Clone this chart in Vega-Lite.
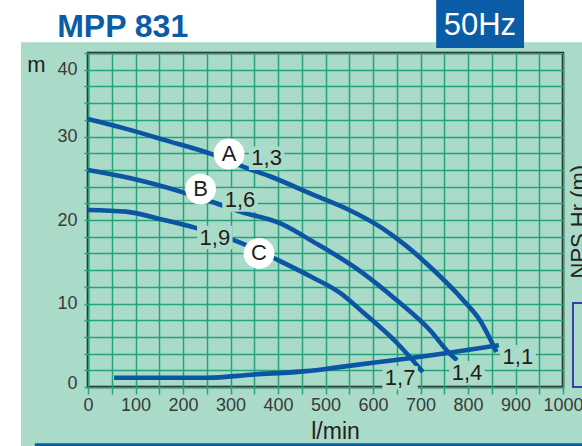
{
  "$schema": "https://vega.github.io/schema/vega-lite/v6.json",
  "width": 475,
  "height": 334,
  "autosize": {"type": "none"},
  "padding": {"left": 88, "top": 53, "right": 19, "bottom": 59},
  "background": "#aadbc8",
  "config": {
    "font": "Liberation Sans",
    "view": {"stroke": "#1c1c1c", "strokeWidth": 2.5, "fill": null},
    "axis": {
      "domain": false,
      "grid": true,
      "gridColor": "#25a27c",
      "gridWidth": 1.5,
      "tickColor": "#25a27c",
      "tickWidth": 1.5,
      "labelFont": "Liberation Sans",
      "labelFontSize": 18,
      "labelColor": "#3a3a3a",
      "titleFont": "Liberation Sans",
      "titleFontWeight": "normal",
      "titleColor": "#222222",
      "labelOverlap": false,
      "labelBound": false,
      "labelFlush": false
    }
  },
  "datasets": {
    "curves": [
      {"curve": "A", "q": 0, "h": 32.1},
      {"curve": "A", "q": 75, "h": 31.0},
      {"curve": "A", "q": 160, "h": 29.6},
      {"curve": "A", "q": 265, "h": 27.8},
      {"curve": "A", "q": 335, "h": 26.2},
      {"curve": "A", "q": 380, "h": 25.3},
      {"curve": "A", "q": 475, "h": 23.0},
      {"curve": "A", "q": 550, "h": 21.2},
      {"curve": "A", "q": 620, "h": 19.0},
      {"curve": "A", "q": 670, "h": 16.9},
      {"curve": "A", "q": 720, "h": 14.4},
      {"curve": "A", "q": 790, "h": 10.4},
      {"curve": "A", "q": 825, "h": 8.0},
      {"curve": "A", "q": 860, "h": 4.2},
      {"curve": "B", "q": 0, "h": 26.0},
      {"curve": "B", "q": 90, "h": 25.0},
      {"curve": "B", "q": 195, "h": 23.4},
      {"curve": "B", "q": 270, "h": 22.0},
      {"curve": "B", "q": 320, "h": 21.0},
      {"curve": "B", "q": 405, "h": 19.6},
      {"curve": "B", "q": 480, "h": 17.2},
      {"curve": "B", "q": 510, "h": 16.2},
      {"curve": "B", "q": 575, "h": 13.8},
      {"curve": "B", "q": 650, "h": 10.4},
      {"curve": "B", "q": 720, "h": 6.8},
      {"curve": "B", "q": 760, "h": 4.1},
      {"curve": "B", "q": 777, "h": 3.2},
      {"curve": "C", "q": 0, "h": 21.2},
      {"curve": "C", "q": 80, "h": 21.0},
      {"curve": "C", "q": 160, "h": 20.0},
      {"curve": "C", "q": 230, "h": 19.0},
      {"curve": "C", "q": 315, "h": 17.4},
      {"curve": "C", "q": 400, "h": 15.2},
      {"curve": "C", "q": 470, "h": 13.2},
      {"curve": "C", "q": 530, "h": 11.3},
      {"curve": "C", "q": 580, "h": 8.9},
      {"curve": "C", "q": 650, "h": 5.3},
      {"curve": "C", "q": 705, "h": 1.8},
      {"curve": "NPSH", "q": 55, "h": 1.1},
      {"curve": "NPSH", "q": 250, "h": 1.1},
      {"curve": "NPSH", "q": 350, "h": 1.5},
      {"curve": "NPSH", "q": 460, "h": 1.9},
      {"curve": "NPSH", "q": 525, "h": 2.35},
      {"curve": "NPSH", "q": 600, "h": 2.9},
      {"curve": "NPSH", "q": 685, "h": 3.5},
      {"curve": "NPSH", "q": 760, "h": 4.1},
      {"curve": "NPSH", "q": 865, "h": 5.0}
    ],
    "labels": [
      {"label": "A", "kind": "letter", "q": 297, "h": 27.9},
      {"label": "B", "kind": "letter", "q": 237, "h": 23.7},
      {"label": "C", "kind": "letter", "q": 360, "h": 16.0},
      {"label": "1,3", "kind": "num", "q": 376, "h": 27.4},
      {"label": "1,6", "kind": "num", "q": 320, "h": 22.4},
      {"label": "1,9", "kind": "num", "q": 267, "h": 17.9},
      {"label": "1,7", "kind": "num", "q": 657, "h": 1.1},
      {"label": "1,4", "kind": "num", "q": 798, "h": 1.7},
      {"label": "1,1", "kind": "num", "q": 905, "h": 3.6}
    ]
  },
  "layer": [
    {
      "data": {"values": [{}]},
      "mark": {"type": "rect", "color": "#ffffff"},
      "encoding": {
        "x": {"datum": -200, "scale": {"domain": [0, 1000], "nice": false, "zero": false}},
        "x2": {"datum": 1100},
        "y": {"datum": 41.3, "scale": {"domain": [0, 40], "nice": false, "zero": false}},
        "y2": {"datum": 48}
      }
    },
    {
      "data": {"values": [{}]},
      "mark": {"type": "rect", "color": "#ffffff"},
      "encoding": {
        "x": {"datum": -200},
        "x2": {"datum": -141},
        "y": {"datum": -9},
        "y2": {"datum": 48}
      }
    },
    {
      "data": {"values": [{}]},
      "mark": {"type": "rect", "color": "#0a5ca6"},
      "encoding": {
        "x": {"datum": -112},
        "x2": {"datum": 1100},
        "y": {"datum": -6.75},
        "y2": {"datum": -9}
      }
    },
    {
      "data": {"values": [{}]},
      "mark": {"type": "rect", "color": "#0a5ca6"},
      "encoding": {
        "x": {"datum": 733},
        "x2": {"datum": 918},
        "y": {"datum": 40.6},
        "y2": {"datum": 48}
      }
    },
    {
      "data": {"name": "curves"},
      "mark": {"type": "line", "color": "#0b55a3", "strokeWidth": 4.6, "interpolate": "monotone", "strokeCap": "butt"},
      "encoding": {
        "x": {
          "field": "q", "type": "quantitative", "title": "l/min",
          "scale": {"domain": [0, 1000], "nice": false, "zero": false},
          "axis": {
            "values": [0, 50, 100, 150, 200, 250, 300, 350, 400, 450, 500, 550, 600, 650, 700, 750, 800, 850, 900, 950, 1000],
            "tickCount": 100,
            "format": "d",
            "labelExpr": "datum.value % 100 === 0 ? datum.label : ''",
            "tickSize": 7,
            "labelPadding": 2,
            "titleFontSize": 23,
            "titleBaseline": "alphabetic",
            "titleAlign": "center",
            "titleX": 247,
            "titleY": 51
          }
        },
        "y": {
          "field": "h", "type": "quantitative", "title": "m",
          "scale": {"domain": [0, 40], "nice": false, "zero": false},
          "axis": {
            "values": [0, 2, 4, 6, 8, 10, 12, 14, 16, 18, 20, 22, 24, 26, 28, 30, 32, 34, 36, 38, 40],
            "tickCount": 100,
            "format": "d",
            "labelExpr": "datum.value % 10 === 0 ? datum.label : ''",
            "tickSize": 4,
            "labelPadding": 7,
            "labelOffset": {"condition": [{"test": "datum.value === 40", "value": 16}, {"test": "datum.value === 0", "value": -4}], "value": 0},
            "titleAngle": 0,
            "titleFontSize": 22,
            "titleAlign": "center",
            "titleBaseline": "alphabetic",
            "titleX": -52,
            "titleY": 18
          }
        },
        "detail": {"field": "curve"}
      }
    },
    {
      "data": {"name": "labels"},
      "transform": [{"filter": "datum.kind === 'num'"}],
      "mark": {"type": "point", "shape": "M-1.5,-1H1.5V1H-1.5Z", "filled": true, "color": "#aadbc8", "opacity": 1, "size": 560},
      "encoding": {
        "x": {"field": "q", "type": "quantitative", "title": "l/min"},
        "y": {"field": "h", "type": "quantitative", "title": "m"}
      }
    },
    {
      "data": {"name": "labels"},
      "transform": [{"filter": "datum.kind === 'letter'"}],
      "mark": {"type": "point", "shape": "circle", "filled": true, "color": "#ffffff", "opacity": 1, "size": 950},
      "encoding": {
        "x": {"field": "q", "type": "quantitative", "title": "l/min"},
        "y": {"field": "h", "type": "quantitative", "title": "m"}
      }
    },
    {
      "data": {"name": "labels"},
      "mark": {"type": "text", "fontSize": 22, "color": "#1e1e1e", "font": "Liberation Sans", "baseline": "middle", "align": "center"},
      "encoding": {
        "x": {"field": "q", "type": "quantitative", "title": "l/min"},
        "y": {"field": "h", "type": "quantitative", "title": "m"},
        "text": {"field": "label"}
      }
    },
    {
      "data": {"values": [{}]},
      "mark": {"type": "text", "text": "MPP 831", "fontSize": 32, "fontWeight": "bold", "color": "#0a5ca6", "align": "left", "baseline": "alphabetic", "font": "Liberation Sans"},
      "encoding": {"x": {"datum": -65}, "y": {"datum": 41.95}}
    },
    {
      "data": {"values": [{}]},
      "mark": {"type": "text", "text": "50Hz", "fontSize": 31, "color": "#ffffff", "align": "center", "baseline": "alphabetic", "font": "Liberation Sans"},
      "encoding": {"x": {"datum": 825}, "y": {"datum": 42.1}}
    },
    {
      "data": {"values": [{}]},
      "mark": {"type": "text", "text": "NPS Hr (m)", "fontSize": 22, "color": "#222222", "align": "center", "baseline": "top", "angle": 270, "font": "Liberation Sans"},
      "encoding": {"x": {"datum": 1012}, "y": {"datum": 19.8}}
    },
    {
      "data": {"values": [{}]},
      "mark": {"type": "rect", "fill": null, "stroke": "#3c3caa", "strokeWidth": 2},
      "encoding": {"x": {"datum": 1021}, "x2": {"datum": 1100}, "y": {"datum": 10.06}, "y2": {"datum": 0}}
    }
  ]
}
